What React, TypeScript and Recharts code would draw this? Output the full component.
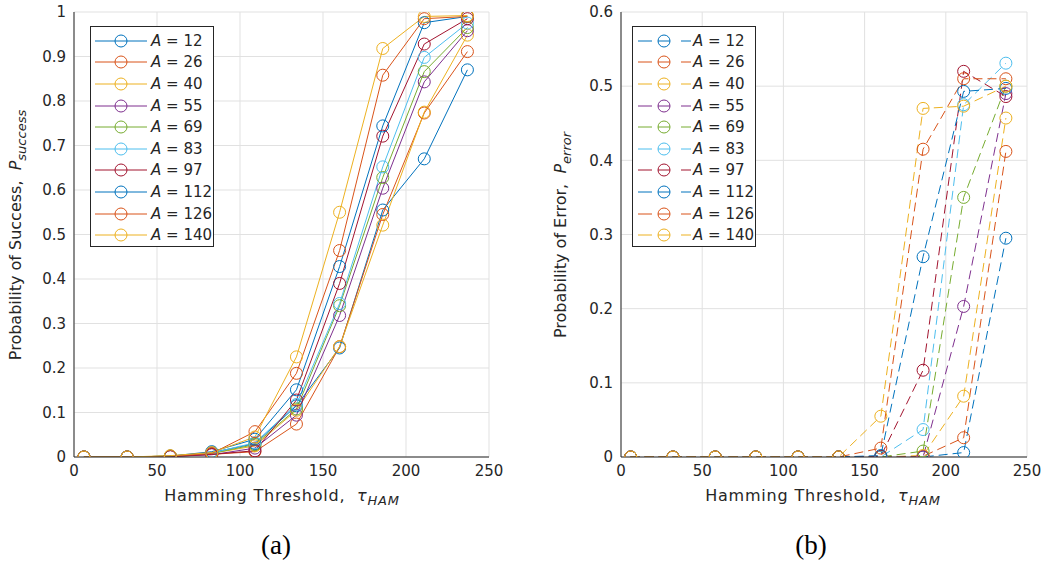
import React from "react";
import {
  LineChart,
  Line,
  XAxis,
  YAxis,
  CartesianGrid,
} from "recharts";

// Hamming thresholds (x axis)
const thresholds = [6, 32, 58, 83, 109, 134, 160, 186, 211, 237];
const aValues = [12, 26, 40, 55, 69, 83, 97, 112, 126, 140];

// Probability of success, one array per A
const success12 = [0, 0, 0.002, 0.01, 0.03, 0.115, 0.245, 0.555, 0.67, 0.87];
const success26 = [0, 0, 0.001, 0.006, 0.012, 0.074, 0.248, 0.545, 0.773, 0.911];
const success40 = [0, 0, 0.002, 0.008, 0.025, 0.105, 0.248, 0.521, 0.775, 0.948];
const success55 = [0, 0, 0.001, 0.005, 0.02, 0.094, 0.318, 0.604, 0.843, 0.958];
const success69 = [0, 0, 0.002, 0.008, 0.028, 0.108, 0.34, 0.628, 0.866, 0.965];
const success83 = [0, 0, 0.002, 0.009, 0.032, 0.118, 0.345, 0.652, 0.898, 0.975];
const success97 = [0, 0, 0.001, 0.006, 0.014, 0.128, 0.39, 0.721, 0.928, 0.985];
const success112 = [0, 0, 0.002, 0.012, 0.04, 0.151, 0.428, 0.744, 0.976, 0.99];
const success126 = [0, 0, 0.002, 0.008, 0.057, 0.188, 0.464, 0.858, 0.985, 0.99];
const success140 = [0, 0, 0.003, 0.01, 0.045, 0.225, 0.55, 0.918, 0.99, 0.992];

// Probability of error, one array per A
const error12 = [0, 0, 0, 0, 0, 0, 0, 0, 0.006, 0.295];
const error26 = [0, 0, 0, 0, 0, 0, 0, 0.001, 0.026, 0.412];
const error40 = [0, 0, 0, 0, 0, 0, 0, 0.002, 0.082, 0.457];
const error55 = [0, 0, 0, 0, 0, 0, 0, 0, 0.203, 0.49];
const error69 = [0, 0, 0, 0, 0, 0, 0, 0.008, 0.35, 0.5];
const error83 = [0, 0, 0, 0, 0, 0, 0, 0.037, 0.475, 0.531];
const error97 = [0, 0, 0, 0, 0, 0, 0.001, 0.117, 0.52, 0.486];
const error112 = [0, 0, 0, 0, 0, 0, 0.002, 0.27, 0.493, 0.497];
const error126 = [0, 0, 0, 0, 0, 0, 0.012, 0.415, 0.51, 0.51];
const error140 = [0, 0, 0, 0, 0, 0, 0.055, 0.47, 0.473, 0.5];

const xTicks = [0, 50, 100, 150, 200, 250];
const successTicks = [0, 0.1, 0.2, 0.3, 0.4, 0.5, 0.6, 0.7, 0.8, 0.9, 1];
const errorTicks = [0, 0.1, 0.2, 0.3, 0.4, 0.5, 0.6];

const COLORS = [
  "#0072BD", "#D95319", "#EDB120", "#7E2F8E", "#77AC30",
  "#4DBEEE", "#A2142F", "#0072BD", "#D95319", "#EDB120",
];

const successSeries = [success12, success26, success40, success55, success69, success83, success97, success112, success126, success140];
const errorSeries = [error12, error26, error40, error55, error69, error83, error97, error112, error126, error140];

const buildRows = (series: number[][]) =>
  thresholds.map((t, i) => {
    const row: Record<string, number> = { t };
    series.forEach((s, k) => {
      row["a" + aValues[k]] = s[i];
    });
    return row;
  });

const successData = buildRows(successSeries);
const errorData = buildRows(errorSeries);

const FONT = "'DejaVu Sans', Arial, sans-serif";
const AXIS = "#262626";
const tickStyle = { fontSize: 15, fill: "#262626", fontFamily: FONT };

function Panel({
  data, ticks, ymax, dashed, width, height, margin,
}: {
  data: Record<string, number>[];
  ticks: number[];
  ymax: number;
  dashed: boolean;
  width: number;
  height: number;
  margin: { top: number; right: number; bottom: number; left: number };
}) {
  return (
    <LineChart width={width} height={height} data={data} margin={margin}>
      <CartesianGrid stroke="#e1e1e1" strokeWidth={1} />
      <XAxis
        dataKey="t"
        type="number"
        domain={[0, 250]}
        ticks={xTicks}
        tick={tickStyle}
        tickLine={false}
        axisLine={{ stroke: AXIS }}
        height={30}
      />
      <YAxis
        type="number"
        domain={[0, ymax]}
        ticks={ticks}
        tick={tickStyle}
        tickLine={false}
        axisLine={{ stroke: AXIS }}
        width={40}
        allowDataOverflow
      />
      <XAxis
        xAxisId="top"
        orientation="top"
        type="number"
        dataKey="t"
        domain={[0, 250]}
        ticks={xTicks}
        tick={false}
        tickSize={5}
        tickLine={{ stroke: AXIS }}
        axisLine={{ stroke: AXIS }}
        mirror
        height={0}
      />
      <XAxis
        xAxisId="btm"
        orientation="bottom"
        type="number"
        dataKey="t"
        domain={[0, 250]}
        ticks={xTicks}
        tick={false}
        tickSize={5}
        tickLine={{ stroke: AXIS }}
        axisLine={false}
        mirror
        height={0}
      />
      <YAxis
        yAxisId="right"
        orientation="right"
        type="number"
        domain={[0, ymax]}
        ticks={ticks}
        tick={false}
        tickSize={5}
        tickLine={{ stroke: AXIS }}
        axisLine={{ stroke: AXIS }}
        mirror
        width={0}
      />
      <YAxis
        yAxisId="lft"
        orientation="left"
        type="number"
        domain={[0, ymax]}
        ticks={ticks}
        tick={false}
        tickSize={5}
        tickLine={{ stroke: AXIS }}
        axisLine={false}
        mirror
        width={0}
      />
      {aValues.map((a, k) => (
        <Line
          key={a}
          type="linear"
          dataKey={"a" + a}
          stroke={COLORS[k]}
          strokeWidth={1}
          strokeDasharray={dashed ? "9 5" : undefined}
          dot={{ r: 6, fill: "none", stroke: COLORS[k], strokeWidth: 1, strokeDasharray: "" }}
          activeDot={false}
          isAnimationActive={false}
        />
      ))}
    </LineChart>
  );
}

function LegendBox({ left, dashed }: { left: number; dashed: boolean }) {
  return (
    <div
      style={{
        position: "absolute",
        left,
        top: 26,
        width: 124,
        height: 221,
        boxSizing: "border-box",
        border: "1px solid #262626",
        background: "#fff",
        fontFamily: FONT,
        fontSize: 15,
        color: "#262626",
      }}
    >
      {aValues.map((a, k) => (
        <div
          key={a}
          style={{ position: "absolute", left: 0, top: 3 + k * 21.6, height: 21.6, display: "flex", alignItems: "center" }}
        >
          <svg width={60} height={20} style={{ display: "block" }}>
            {dashed ? (
              <>
                <line x1={5} x2={19} y1={10} y2={10} stroke={COLORS[k]} strokeWidth={1} />
                <line x1={48} x2={58} y1={10} y2={10} stroke={COLORS[k]} strokeWidth={1} />
                <line x1={25} x2={37} y1={10} y2={10} stroke={COLORS[k]} strokeWidth={1} />
                <circle cx={31} cy={10} r={6} fill="none" stroke={COLORS[k]} strokeWidth={1} />
              </>
            ) : (
              <>
                <line x1={4} x2={56} y1={10} y2={10} stroke={COLORS[k]} strokeWidth={1} />
                <circle cx={30} cy={10} r={6} fill="none" stroke={COLORS[k]} strokeWidth={1} />
              </>
            )}
          </svg>
          <span style={{ whiteSpace: "pre" }}>
            <i>A</i> = {a}
          </span>
        </div>
      ))}
    </div>
  );
}

const labelStyle: React.CSSProperties = {
  position: "absolute",
  fontFamily: FONT,
  fontSize: 16,
  color: "#262626",
  whiteSpace: "pre",
  lineHeight: "18px",
};

function XLabel({ cx }: { cx: number }) {
  return (
    <div style={{ ...labelStyle, left: cx, top: 487, letterSpacing: 0.8, transform: "translateX(-50%)" }}>
      Hamming Threshold,  <i>τ</i>
      <sub style={{ fontSize: 13, fontStyle: "italic" }}>HAM</sub>
    </div>
  );
}

function YLabel({ cx, cy, main, sub }: { cx: number; cy: number; main: string; sub: string }) {
  return (
    <div
      style={{
        ...labelStyle,
        left: cx,
        top: cy,
        transform: "translate(-50%, -50%) rotate(-90deg)",
      }}
    >
      {main}  <i>P</i>
      <sub style={{ fontSize: 13, fontStyle: "italic" }}>{sub}</sub>
    </div>
  );
}

const captionStyle: React.CSSProperties = {
  position: "absolute",
  top: 545,
  transform: "translate(-50%, -50%)",
  fontFamily: "'Liberation Serif', 'Times New Roman', serif",
  fontSize: 27,
  color: "#000",
};

export default function App() {
  return (
    <div style={{ position: "absolute", left: 0, top: 0, width: 1045, height: 565, background: "#fff", overflow: "hidden" }}>
      <div style={{ position: "absolute", left: 0, top: 0 }}>
        <Panel
          data={successData}
          ticks={successTicks}
          ymax={1}
          dashed={false}
          width={520}
          height={565}
          margin={{ top: 12, right: 31, bottom: 78, left: 34 }}
        />
      </div>
      <div style={{ position: "absolute", left: 540, top: 0 }}>
        <Panel
          data={errorData}
          ticks={errorTicks}
          ymax={0.6}
          dashed={true}
          width={505}
          height={565}
          margin={{ top: 12, right: 18, bottom: 78, left: 41 }}
        />
      </div>
      <LegendBox left={90} dashed={false} />
      <LegendBox left={632} dashed={true} />
      <XLabel cx={282} />
      <XLabel cx={823} />
      <YLabel cx={19} cy={235} main="Probability of Success," sub="success" />
      <YLabel cx={564} cy={235} main="Probability of Error," sub="error" />
      <div style={{ ...captionStyle, left: 276 }}>(a)</div>
      <div style={{ ...captionStyle, left: 811 }}>(b)</div>
    </div>
  );
}
